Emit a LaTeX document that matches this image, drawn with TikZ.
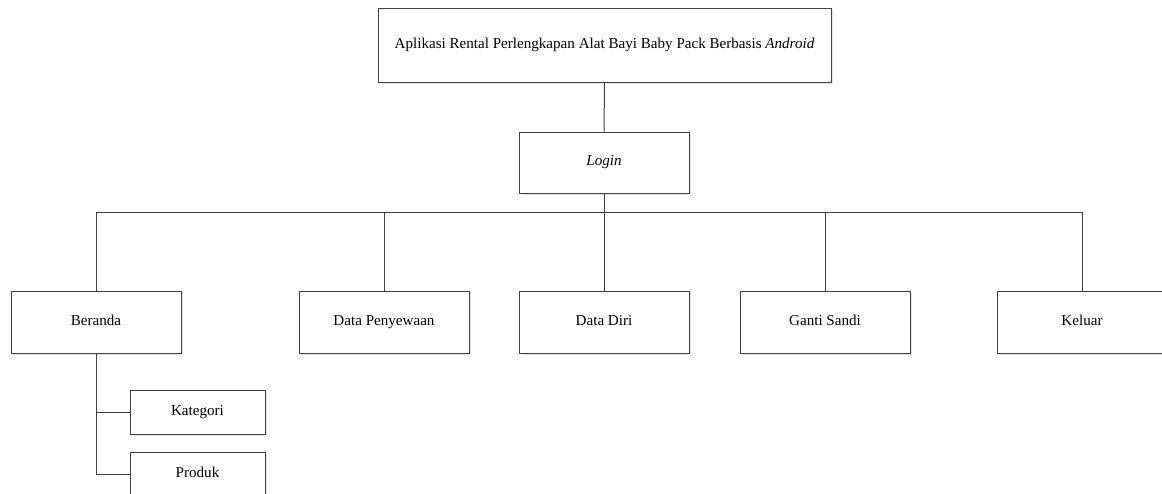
\documentclass[tikz,border=0pt]{standalone}
\usepackage{fontspec}
\setmainfont{Liberation Serif}
\usetikzlibrary{shadows}
\begin{document}
\begin{tikzpicture}[x=1pt,y=-1pt,
  box/.style={draw=black!75, line width=0.9pt, fill=white, rectangle, inner sep=0pt,
    font=\fontsize{15.1}{18}\selectfont, text height=0.68em, text depth=0.08em,
    drop shadow={shadow xshift=1.5pt, shadow yshift=-1.5pt, fill=black!10, opacity=1}},
  link/.style={draw=black!75, line width=1pt}]
\useasboundingbox (0,0) rectangle (1162,493);
\clip (0,0) rectangle (1162,493);
\node[box, minimum width=453pt, minimum height=74pt] (app) at (604.5,45) {Aplikasi Rental Perlengkapan Alat Bayi Baby Pack Berbasis \textit{Android}};
\node[box, minimum width=170pt, minimum height=61pt] (login) at (604,162.5) {\textit{Login}};
\node[box, minimum width=170pt, minimum height=62pt] (beranda) at (96,322) {Beranda};
\node[box, minimum width=170pt, minimum height=62pt] (sewa) at (384,322) {Data Penyewaan};
\node[box, minimum width=170pt, minimum height=62pt] (diri) at (604,322) {Data Diri};
\node[box, minimum width=170pt, minimum height=62pt] (sandi) at (825,322) {Ganti Sandi};
\node[box, minimum width=170pt, minimum height=62pt] (keluar) at (1082,322) {Keluar};
\node[box, minimum width=135pt, minimum height=44pt] (kategori) at (197.5,412) {Kategori};
\node[box, minimum width=135pt, minimum height=44pt] (produk) at (197.5,474) {Produk};
\coordinate (bus) at (604,212);
\draw[link] (app.south) -- (login.north);
\draw[link] (login.south) -- (bus);
\draw[link] (bus) -| (beranda.north);
\draw[link] (bus) -| (sewa.north);
\draw[link] (bus) -- (diri.north);
\draw[link] (bus) -| (sandi.north);
\draw[link] (bus) -| (keluar.north);
\draw[link] (beranda.south) |- (kategori.west);
\draw[link] (beranda.south) |- (produk.west);
\end{tikzpicture}
\end{document}
